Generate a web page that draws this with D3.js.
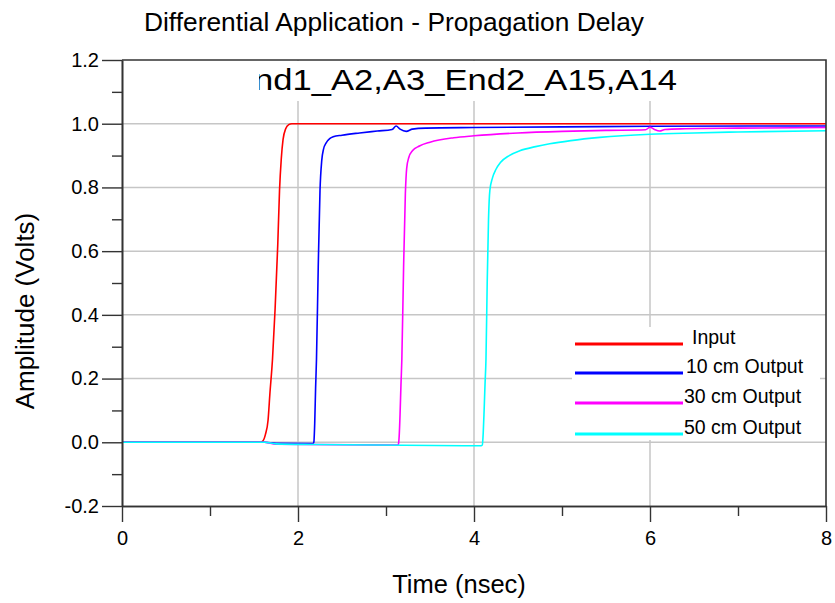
<!DOCTYPE html>
<html>
<head>
<meta charset="utf-8">
<script src="https://cdn.jsdelivr.net/npm/d3@7"></script>
<style>
  html, body { margin: 0; padding: 0; background: #fff; }
  svg { display: block; font-family: "Liberation Sans", Arial, sans-serif; }
</style>
</head>
<body>
<svg id="chart" width="835" height="603"></svg>
<script>
// Step response of the differential link: input and outputs after 10, 30 and 50 cm
const seriesNames = ["Input", "10 cm Output", "30 cm Output", "50 cm Output"];
const seriesColors = ["#ff0000", "#0000ff", "#ff00ff", "#00ffff"];

// time (ns) / amplitude (V) samples per trace
const inputT = [0, 1.57, 1.60, 1.63, 1.66, 1.68, 1.71, 1.74, 1.77, 1.79, 1.81, 1.83, 1.86, 1.895, 1.93, 8];
const inputV = [0, 0, 0.004, 0.025, 0.07, 0.15, 0.26, 0.42, 0.62, 0.79, 0.89, 0.95, 0.984, 0.997, 1.0, 1.0];

const out10T = [0, 1.62, 1.75, 2.17, 2.18, 2.19, 2.20, 2.21, 2.23, 2.25, 2.27, 2.29, 2.32, 2.36, 2.40, 2.5, 2.7, 2.9, 3.07, 3.115, 3.16, 3.23, 3.30, 3.45, 4.0, 5.0, 6.0, 8.0];
const out10V = [0, 0, -0.003, -0.004, 0.0, 0.06, 0.17, 0.26, 0.55, 0.79, 0.885, 0.92, 0.94, 0.953, 0.959, 0.964, 0.971, 0.977, 0.982, 0.993, 0.983, 0.976, 0.983, 0.986, 0.988, 0.99, 0.992, 0.993];

const out30T = [0, 1.62, 1.75, 3.13, 3.14, 3.15, 3.16, 3.17, 3.18, 3.20, 3.22, 3.235, 3.26, 3.30, 3.38, 3.5, 3.77, 4.0, 4.5, 5.0, 5.5, 5.95, 6.0, 6.05, 6.11, 6.17, 6.4, 7.0, 8.0];
const out30V = [0, 0, -0.006, -0.009, -0.007, 0.02, 0.09, 0.18, 0.26, 0.55, 0.78, 0.86, 0.895, 0.915, 0.93, 0.942, 0.956, 0.962, 0.971, 0.976, 0.979, 0.981, 0.989, 0.982, 0.977, 0.982, 0.984, 0.986, 0.988];

const out50T = [0, 1.62, 1.75, 2.2, 4.08, 4.095, 4.105, 4.115, 4.125, 4.136, 4.15, 4.165, 4.18, 4.21, 4.25, 4.3, 4.4, 4.52, 4.7, 4.86, 5.1, 5.43, 6.0, 6.5, 7.0, 8.0];
const out50V = [0, 0, -0.005, -0.007, -0.011, -0.008, 0.03, 0.1, 0.18, 0.26, 0.5, 0.7, 0.79, 0.83, 0.857, 0.878, 0.9, 0.915, 0.928, 0.937, 0.947, 0.957, 0.967, 0.971, 0.974, 0.978];

const xMajorTicks = [0, 2, 4, 6, 8];
const xMinorTicks = [1, 3, 5, 7];
const xTickLabels = ["0", "2", "4", "6", "8"];
const yMajorTicks = [-0.2, 0.0, 0.2, 0.4, 0.6, 0.8, 1.0, 1.2];
const yMinorTicks = [-0.1, 0.1, 0.3, 0.5, 0.7, 0.9, 1.1];
const yTickLabels = ["-0.2", "0.0", "0.2", "0.4", "0.6", "0.8", "1.0", "1.2"];

const titleText = "Differential Application - Propagation Delay";
const plotLabel = "End1_A2,A3_End2_A15,A14";
const xLabel = "Time (nsec)";
const yLabel = "Amplitude (Volts)";

const traces = [
  { t: inputT, v: inputV },
  { t: out10T, v: out10V },
  { t: out30T, v: out30V },
  { t: out50T, v: out50V }
].map((s, i) => ({
  name: seriesNames[i],
  color: seriesColors[i],
  points: s.t.map((t, k) => ({ t, v: s.v[k] }))
}));

const svg = d3.select("#chart");
const plot = { left: 122, top: 60, right: 826, bottom: 506 };

const x = d3.scaleLinear().domain([0, 8]).range([plot.left, plot.right]);
const y = d3.scaleLinear().domain([-0.2, 1.2]).range([plot.bottom, plot.top]);

// grid
const grid = svg.append("g").attr("stroke", "#c6c6c6").attr("stroke-width", 1.5);
grid.selectAll("line.h").data(yMajorTicks.filter(d => d > -0.2 && d < 1.2)).join("line")
  .attr("class", "h")
  .attr("x1", plot.left).attr("x2", plot.right)
  .attr("y1", d => y(d)).attr("y2", d => y(d));
grid.selectAll("line.v").data(xMajorTicks.filter(d => d > 0 && d < 8)).join("line")
  .attr("class", "v")
  .attr("x1", d => x(d)).attr("x2", d => x(d))
  .attr("y1", plot.top).attr("y2", plot.bottom);

// label band at the top of the plot; the long trace label is clipped on its left
svg.append("rect")
  .attr("x", plot.left + 1).attr("y", plot.top + 1)
  .attr("width", plot.right - plot.left - 2).attr("height", 40)
  .attr("fill", "#fff");
svg.append("defs").append("clipPath").attr("id", "labelClip")
  .append("rect").attr("x", 259).attr("y", plot.top).attr("width", 560).attr("height", 41);
svg.append("text")
  .attr("clip-path", "url(#labelClip)")
  .attr("x", 231).attr("y", 90)
  .attr("font-size", 30)
  .attr("textLength", 446)
  .attr("lengthAdjust", "spacingAndGlyphs")
  .attr("fill", "#000")
  .text(plotLabel);

// legend
const legend = svg.append("g");
legend.append("rect")
  .attr("x", 572).attr("y", 327).attr("width", 248).attr("height", 113)
  .attr("fill", "#fff");
const legendRows = [344, 373, 403, 434];
const legendTextX = [692, 686, 684, 684];
traces.forEach((s, i) => {
  legend.append("line")
    .attr("x1", 575).attr("x2", 683)
    .attr("y1", legendRows[i]).attr("y2", legendRows[i])
    .attr("stroke", s.color).attr("stroke-width", 3);
  legend.append("text")
    .attr("x", legendTextX[i]).attr("y", legendRows[i])
    .attr("font-size", 19.5)
    .attr("fill", "#000")
    .text(s.name);
});

// traces
const line = d3.line()
  .x(d => x(d.t))
  .y(d => y(d.v))
  .curve(d3.curveMonotoneX);
svg.append("g").selectAll("path").data(traces).join("path")
  .attr("d", d => line(d.points))
  .attr("fill", "none")
  .attr("stroke", d => d.color)
  .attr("stroke-width", 1.6)
  .attr("stroke-linejoin", "round");

// axes
function styleAxis(g) {
  g.selectAll("path.domain").attr("stroke", "#333").attr("stroke-width", 1.6);
  g.selectAll(".tick line").attr("stroke", "#333").attr("stroke-width", 1.4);
  g.selectAll(".tick text").attr("fill", "#000").attr("font-size", 20)
    .attr("font-family", "Liberation Sans, Arial, sans-serif");
}

svg.append("g")
  .attr("transform", `translate(${plot.left},0)`)
  .call(d3.axisLeft(y).tickValues(yMinorTicks).tickSize(10).tickSizeOuter(0).tickFormat(""))
  .call(styleAxis);
svg.append("g")
  .attr("transform", `translate(${plot.left},0)`)
  .call(d3.axisLeft(y).tickValues(yMajorTicks).tickSize(20).tickSizeOuter(0).tickPadding(3)
    .tickFormat((d, i) => yTickLabels[i]))
  .call(styleAxis);

svg.append("g")
  .attr("transform", `translate(0,${plot.bottom})`)
  .call(d3.axisBottom(x).tickValues(xMinorTicks).tickSize(10).tickSizeOuter(0).tickFormat(""))
  .call(styleAxis);
svg.append("g")
  .attr("transform", `translate(0,${plot.bottom})`)
  .call(d3.axisBottom(x).tickValues(xMajorTicks).tickSize(16).tickSizeOuter(0).tickPadding(9)
    .tickFormat((d, i) => xTickLabels[i]))
  .call(styleAxis);

// top and right frame
svg.append("path")
  .attr("d", `M${plot.left},${plot.top}H${plot.right}V${plot.bottom}`)
  .attr("fill", "none").attr("stroke", "#333").attr("stroke-width", 1.6);

// titles
svg.append("text")
  .attr("x", 394).attr("y", 31)
  .attr("text-anchor", "middle")
  .attr("font-size", 26)
  .attr("textLength", 500)
  .attr("lengthAdjust", "spacingAndGlyphs")
  .attr("fill", "#000")
  .text(titleText);
svg.append("text")
  .attr("x", 459).attr("y", 593)
  .attr("text-anchor", "middle")
  .attr("font-size", 25.5)
  .attr("fill", "#000")
  .text(xLabel);
svg.append("text")
  .attr("transform", "translate(34,311) rotate(-90)")
  .attr("text-anchor", "middle")
  .attr("font-size", 26)
  .attr("fill", "#000")
  .text(yLabel);
</script>
</body>
</html>
